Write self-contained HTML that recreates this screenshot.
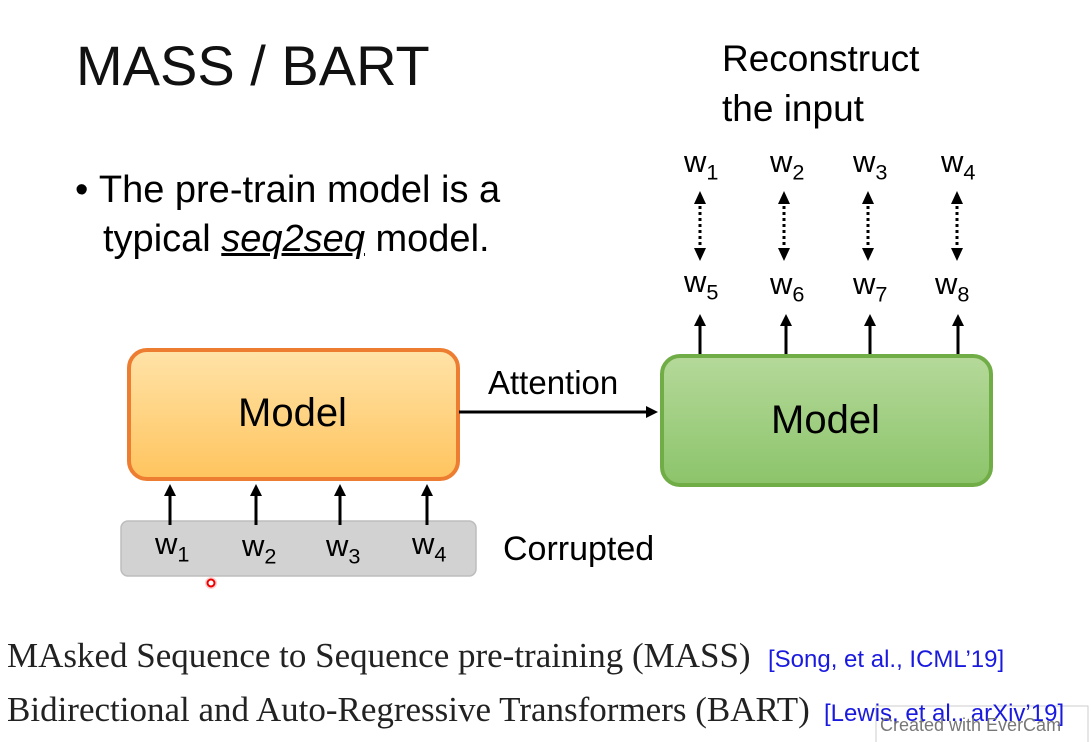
<!DOCTYPE html>
<html><head><meta charset="utf-8"><style>
body{margin:0;width:1091px;height:742px;background:#fff;overflow:hidden;position:relative;font-family:"Liberation Sans",sans-serif;color:#000}
.t{position:absolute;white-space:nowrap;line-height:1}
sub{font-size:0.7em;vertical-align:-0.35em}
</style></head><body>
<svg width="1091" height="742" style="position:absolute;left:0;top:0">
<defs>
<linearGradient id="go" x1="0" y1="0" x2="0" y2="1"><stop offset="0" stop-color="#FFE3A8"/><stop offset="1" stop-color="#FFC45E"/></linearGradient>
<linearGradient id="gg" x1="0" y1="0" x2="0" y2="1"><stop offset="0" stop-color="#B5D99A"/><stop offset="1" stop-color="#8CC46A"/></linearGradient>
<marker id="ah" markerWidth="4" markerHeight="4" refX="2" refY="2" orient="auto" markerUnits="strokeWidth"><path d="M0,0L4,2L0,4z" fill="#000"/></marker>
</defs>
<rect x="129" y="350" width="329" height="129" rx="18" fill="url(#go)" stroke="#ED7D31" stroke-width="4"/>
<rect x="662" y="356" width="329" height="129" rx="18" fill="url(#gg)" stroke="#70AD47" stroke-width="4"/>
<rect x="121" y="521" width="355" height="55" rx="7" fill="#d2d2d2" stroke="#bdbdbd" stroke-width="1.5"/>
<line x1="459" y1="412" x2="652" y2="412" stroke="#000" stroke-width="3" marker-end="url(#ah)"/>
<g stroke="#000" stroke-width="3" marker-end="url(#ah)">
<line x1="170" y1="525" x2="170" y2="490"/><line x1="256" y1="525" x2="256" y2="490"/>
<line x1="340" y1="525" x2="340" y2="490"/><line x1="427" y1="525" x2="427" y2="490"/>
<line x1="700" y1="354" x2="700" y2="320"/><line x1="786" y1="354" x2="786" y2="320"/>
<line x1="870" y1="354" x2="870" y2="320"/><line x1="958" y1="354" x2="958" y2="320"/>
</g>
<g stroke="#000" stroke-width="3" stroke-dasharray="3,3">
<line x1="700" y1="200" x2="700" y2="252"/><line x1="784" y1="200" x2="784" y2="252"/>
<line x1="868" y1="200" x2="868" y2="252"/><line x1="957" y1="200" x2="957" y2="252"/>
</g>
<g fill="#000">
<path d="M694,204L700,191L706,204zM694,248L700,261L706,248z"/>
<path d="M778,204L784,191L790,204zM778,248L784,261L790,248z"/>
<path d="M862,204L868,191L874,204zM862,248L868,261L874,248z"/>
<path d="M951,204L957,191L963,204zM951,248L957,261L963,248z"/>
</g>
<circle cx="211" cy="583" r="6" fill="#ffb0b0" opacity="0.6"/>
<circle cx="211" cy="583" r="3.5" fill="#fff" stroke="#e00" stroke-width="2"/>
<rect x="876" y="706" width="212" height="40" fill="#fff" fill-opacity="0.7" stroke="#ccc"/>
</svg>
<div class="t" style="left:76px;top:38px;font-size:56px;color:#111">MASS / BART</div>
<div class="t" style="left:75px;top:171px;font-size:38px">•&nbsp;The pre-train model is a</div>
<div class="t" style="left:103px;top:220px;font-size:38px">typical <i><u>seq2seq</u></i> model.</div>
<div class="t" style="left:722px;top:40px;font-size:37px">Reconstruct</div>
<div class="t" style="left:722px;top:90px;font-size:37px">the input</div>
<div class="t" style="left:684px;top:146px;font-size:31px">w<sub>1</sub></div>
<div class="t" style="left:770px;top:146px;font-size:31px">w<sub>2</sub></div>
<div class="t" style="left:853px;top:146px;font-size:31px">w<sub>3</sub></div>
<div class="t" style="left:941px;top:146px;font-size:31px">w<sub>4</sub></div>
<div class="t" style="left:684px;top:266px;font-size:31px">w<sub>5</sub></div>
<div class="t" style="left:770px;top:268px;font-size:31px">w<sub>6</sub></div>
<div class="t" style="left:853px;top:268px;font-size:31px">w<sub>7</sub></div>
<div class="t" style="left:935px;top:268px;font-size:31px">w<sub>8</sub></div>
<div class="t" style="left:238px;top:393px;font-size:40px">Model</div>
<div class="t" style="left:771px;top:400px;font-size:40px">Model</div>
<div class="t" style="left:488px;top:366px;font-size:33px">Attention</div>
<div class="t" style="left:155px;top:528px;font-size:31px">w<sub>1</sub></div>
<div class="t" style="left:242px;top:530px;font-size:31px">w<sub>2</sub></div>
<div class="t" style="left:326px;top:530px;font-size:31px">w<sub>3</sub></div>
<div class="t" style="left:412px;top:528px;font-size:31px">w<sub>4</sub></div>
<div class="t" style="left:503px;top:532px;font-size:34px">Corrupted</div>
<div class="t" style="left:7px;top:638px;font-size:35px;font-family:'Liberation Serif',serif;color:#222">MAsked Sequence to Sequence pre-training (MASS)</div>
<div class="t" style="left:768px;top:648px;font-size:24px;color:#1a1adf">[Song, et al., ICML’19]</div>
<div class="t" style="left:7px;top:692px;font-size:35px;font-family:'Liberation Serif',serif;color:#222">Bidirectional and Auto-Regressive Transformers (BART)</div>
<div class="t" style="left:824px;top:702px;font-size:24px;color:#1a1adf">[Lewis, et al., arXiv’19]</div>
<div class="t" style="left:880px;top:716px;font-size:18px;color:#777">Created with EverCam</div>
</body></html>
